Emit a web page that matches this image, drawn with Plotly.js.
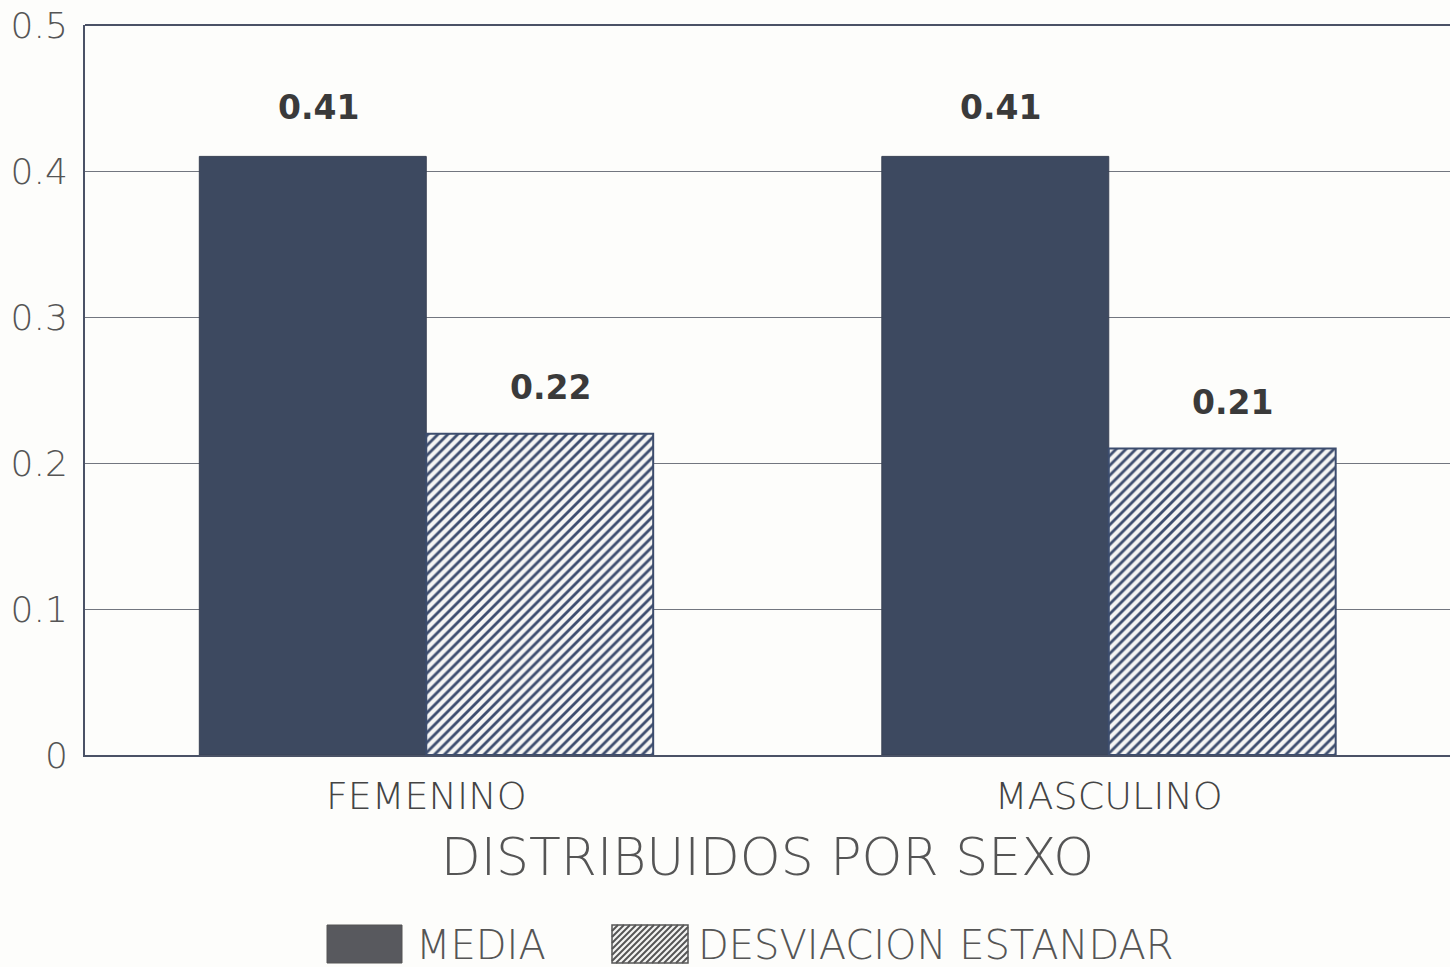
<!DOCTYPE html>
<html>
<head>
<meta charset="utf-8">
<script src="https://cdn.plot.ly/plotly-3.0.1.min.js"></script>
<style>
html,body{margin:0;padding:0;background:#fdfdfb;}
#chart{width:1450px;height:967px;}
</style>
</head>
<body>
<div id="chart"></div>
<script>
const categories = ["FEMENINO", "MASCULINO"];
const mediaValues = [0.41, 0.41];
const desvValues = [0.22, 0.21];
const yTickValues = [0, 0.1, 0.2, 0.3, 0.4, 0.5];
const yTickLabels = ["0", "0.1", "0.2", "0.3", "0.4", "0.5"];
const seriesNames = ["MEDIA", "DESVIACION ESTANDAR"];
const xTitle = "DISTRIBUIDOS POR SEXO";

const fontFam = "DejaVu Sans, Liberation Sans, sans-serif";
const W = 1450, H = 967;
const M = {l: 85, r: 0, t: 25, b: 212};
const PW = W - M.l - M.r, PH = H - M.t - M.b;
const px2x = p => (p - M.l) / PW;
const py2y = p => (H - M.b - p) / PH;

const hatchColor = "#3d4d6e";

const traces = [
  {
    type: "bar",
    name: seriesNames[0],
    x: categories,
    y: mediaValues,
    marker: {color: "#3d4960", line: {color: "#3a4254", width: 1}},
    hoverinfo: "y"
  },
  {
    type: "bar",
    name: seriesNames[1],
    x: categories,
    y: desvValues,
    marker: {
      color: "#f6f6f4",
      line: {color: hatchColor, width: 2},
      pattern: {shape: "/", fgcolor: hatchColor, bgcolor: "#f6f6f4", size: 7, solidity: 0.4}
    },
    hoverinfo: "y"
  }
];

const labelFont = {family: fontFam, size: 33, color: "#3a3a3a", weight: "bold"};
const annotations = [];
categories.forEach((c, i) => {
  annotations.push({
    x: c, y: mediaValues[i], xref: "x", yref: "y", xshift: -108, yshift: 49,
    yanchor: "middle", showarrow: false, text: "<b>" + mediaValues[i].toFixed(2) + "</b>",
    font: labelFont
  });
  annotations.push({
    x: c, y: desvValues[i], xref: "x", yref: "y", xshift: 124, yshift: 46,
    yanchor: "middle", showarrow: false, text: "<b>" + desvValues[i].toFixed(2) + "</b>",
    font: labelFont
  });
});

// custom legend (swatches + labels)
const legendFont = {family: fontFam, size: 40, color: "#555", weight: 300};
const sw1 = {x0: 327, x1: 402, y0: 925, y1: 963};
const sw2 = {x0: 612, x1: 688, y0: 925, y1: 963};
const shapes = [
  {type: "line", xref: "paper", yref: "paper", x0: 0, x1: 1, y0: 1, y1: 1,
   line: {color: "#4a5266", width: 2}},
  {type: "rect", xref: "paper", yref: "paper",
   x0: px2x(sw1.x0), x1: px2x(sw1.x1), y0: py2y(sw1.y1), y1: py2y(sw1.y0),
   fillcolor: "#58595e", line: {color: "#555", width: 1}},
  {type: "rect", xref: "paper", yref: "paper",
   x0: px2x(sw2.x0), x1: px2x(sw2.x1), y0: py2y(sw2.y1), y1: py2y(sw2.y0),
   fillcolor: "#f4f4f2", line: {color: "#555", width: 1.5}}
];
// hatch lines "/" clipped to swatch 2 (pixel coords, y down)
for (let c = sw2.x0 - (sw2.y1 - sw2.y0); c < sw2.x1; c += 6) {
  let xa = c, ya = sw2.y1, xb = c + (sw2.y1 - sw2.y0), yb = sw2.y0;
  if (xa < sw2.x0) { ya -= (sw2.x0 - xa); xa = sw2.x0; }
  if (xb > sw2.x1) { yb += (xb - sw2.x1); xb = sw2.x1; }
  if (xa >= xb) continue;
  shapes.push({type: "line", xref: "paper", yref: "paper",
    x0: px2x(xa), y0: py2y(ya), x1: px2x(xb), y1: py2y(yb),
    line: {color: "#555", width: 2}});
}
annotations.push({xref: "paper", yref: "paper", x: px2x(414), y: py2y(945),
  xanchor: "left", yanchor: "middle", showarrow: false, text: seriesNames[0], font: legendFont});
annotations.push({xref: "paper", yref: "paper", x: px2x(696), y: py2y(945),
  xanchor: "left", yanchor: "middle", showarrow: false, text: seriesNames[1], font: legendFont});

const layout = {
  width: W, height: H,
  paper_bgcolor: "#fdfdfb", plot_bgcolor: "#fdfdfb",
  margin: M,
  barmode: "group",
  bargap: 0.335,
  bargroupgap: 0,
  font: {family: fontFam, color: "#4a4a4a"},
  xaxis: {
    type: "category",
    range: [-0.5, 1.5],
    showline: true, linecolor: "#4a5266", linewidth: 2,
    showgrid: false, ticks: "",
    tickfont: {family: fontFam, size: 38, color: "#444", weight: 300},
    ticklabelstandoff: 6,
    title: {text: xTitle, font: {family: fontFam, size: 52, color: "#555", weight: 300}, standoff: 22},
    fixedrange: true
  },
  yaxis: {
    range: [0, 0.5],
    tickvals: yTickValues, ticktext: yTickLabels,
    showline: true, linecolor: "#4a5266", linewidth: 2,
    showgrid: true, gridcolor: "#72767f", gridwidth: 1,
    zeroline: false, ticks: "",
    tickfont: {family: fontFam, size: 36, color: "#555", weight: 300},
    ticklabelstandoff: 8,
    fixedrange: true
  },
  shapes: shapes,
  showlegend: false,
  annotations: annotations
};

Plotly.newPlot("chart", traces, layout, {displayModeBar: false, staticPlot: true});
</script>
</body>
</html>
